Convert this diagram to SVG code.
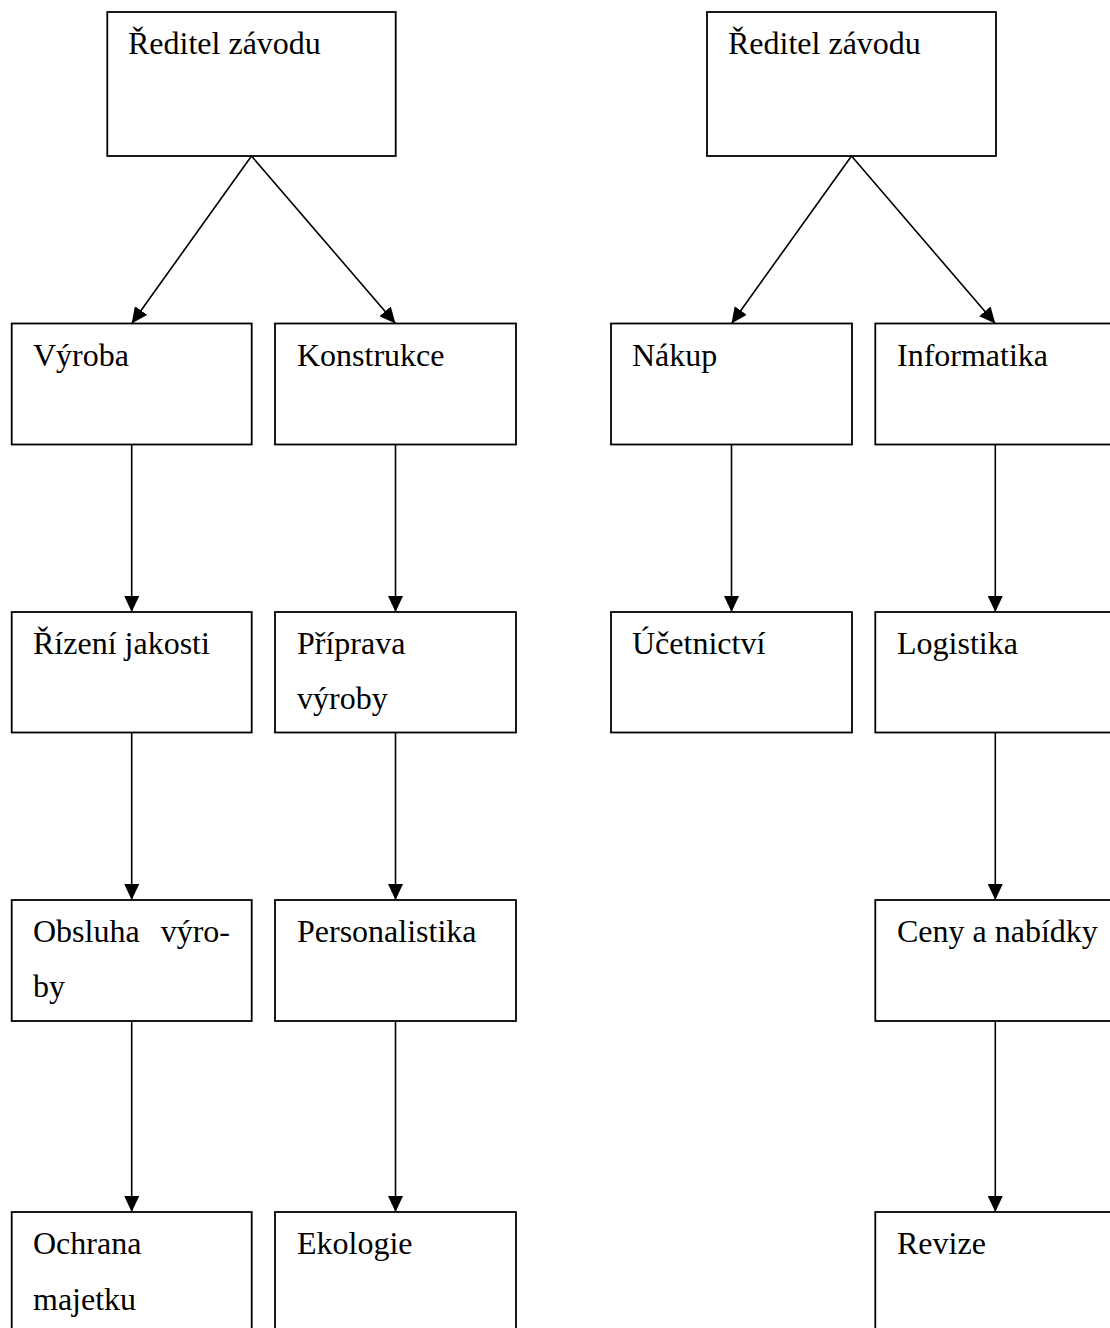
<svg xmlns="http://www.w3.org/2000/svg" width="1110" height="1328" viewBox="0 0 1110 1328">
<style>
.box{fill:#fff;stroke:#000;stroke-width:1.8}
.lbl{font-family:"Liberation Serif","Times New Roman",serif;font-size:32px;fill:#000}
.con{stroke:#000;stroke-width:1.6;fill:none;marker-end:url(#arr)}
.end{text-anchor:end}
</style>
<defs>
<marker id="arr" markerUnits="userSpaceOnUse" markerWidth="16" markerHeight="15" refX="16" refY="7.5" orient="auto">
<path d="M0,0 L16,7.5 L0,15 z" fill="#000"/>
</marker>
</defs>
<rect width="1110" height="1328" fill="#fff"/>
<g id="connectors">
<line class="con" x1="251.5" y1="156" x2="131.7" y2="323.5"/>
<line class="con" x1="251.5" y1="156" x2="395.5" y2="323.5"/>
<line class="con" x1="851.5" y1="156" x2="731.5" y2="323.5"/>
<line class="con" x1="851.5" y1="156" x2="995.3" y2="323.5"/>
<line class="con" x1="131.7" y1="444.5" x2="131.7" y2="612"/>
<line class="con" x1="131.7" y1="732.5" x2="131.7" y2="900"/>
<line class="con" x1="131.7" y1="1021" x2="131.7" y2="1212"/>
<line class="con" x1="395.5" y1="444.5" x2="395.5" y2="612"/>
<line class="con" x1="395.5" y1="732.5" x2="395.5" y2="900"/>
<line class="con" x1="395.5" y1="1021" x2="395.5" y2="1212"/>
<line class="con" x1="731.5" y1="444.5" x2="731.5" y2="612"/>
<line class="con" x1="995.3" y1="444.5" x2="995.3" y2="612"/>
<line class="con" x1="995.3" y1="732.5" x2="995.3" y2="900"/>
<line class="con" x1="995.3" y1="1021" x2="995.3" y2="1212"/>
</g>
<g id="n-reditel1"><rect class="box" x="107.3" y="12" width="288.4" height="144"/><text class="lbl" x="128" y="54">Ředitel závodu</text></g>
<g id="n-reditel2"><rect class="box" x="707" y="12" width="289" height="144"/><text class="lbl" x="728" y="54">Ředitel závodu</text></g>
<g id="n-vyroba"><rect class="box" x="11.7" y="323.5" width="240" height="121"/><text class="lbl" x="33" y="366">Výroba</text></g>
<g id="n-konstrukce"><rect class="box" x="275" y="323.5" width="241" height="121"/><text class="lbl" x="297" y="366">Konstrukce</text></g>
<g id="n-nakup"><rect class="box" x="611" y="323.5" width="241" height="121"/><text class="lbl" x="632" y="366">Nákup</text></g>
<g id="n-informatika"><rect class="box" x="875.3" y="323.5" width="241" height="121"/><text class="lbl" x="897" y="366">Informatika</text></g>
<g id="n-rizeni"><rect class="box" x="11.7" y="612" width="240" height="120.5"/><text class="lbl" x="33" y="654">Řízení jakosti</text></g>
<g id="n-priprava"><rect class="box" x="275" y="612" width="241" height="120.5"/><text class="lbl" x="297" y="654">Příprava</text><text class="lbl" x="297" y="709">výroby</text></g>
<g id="n-ucetnictvi"><rect class="box" x="611" y="612" width="241" height="120.5"/><text class="lbl" x="632" y="654">Účetnictví</text></g>
<g id="n-logistika"><rect class="box" x="875.3" y="612" width="241" height="120.5"/><text class="lbl" x="897" y="654">Logistika</text></g>
<g id="n-obsluha"><rect class="box" x="11.7" y="900" width="240" height="121"/><text class="lbl" x="33" y="942">Obsluha</text><text class="lbl end" x="230" y="942">výro-</text><text class="lbl" x="33" y="997">by</text></g>
<g id="n-personalistika"><rect class="box" x="275" y="900" width="241" height="121"/><text class="lbl" x="297" y="942">Personalistika</text></g>
<g id="n-ceny"><rect class="box" x="875.3" y="900" width="241" height="121"/><text class="lbl" x="897" y="942">Ceny a nabídky</text></g>
<g id="n-ochrana"><rect class="box" x="11.7" y="1212" width="240" height="130"/><text class="lbl" x="33" y="1254">Ochrana</text><text class="lbl" x="33" y="1310">majetku</text></g>
<g id="n-ekologie"><rect class="box" x="275" y="1212" width="241" height="130"/><text class="lbl" x="297" y="1254">Ekologie</text></g>
<g id="n-revize"><rect class="box" x="875.3" y="1212" width="241" height="130"/><text class="lbl" x="897" y="1254">Revize</text></g>
</svg>
